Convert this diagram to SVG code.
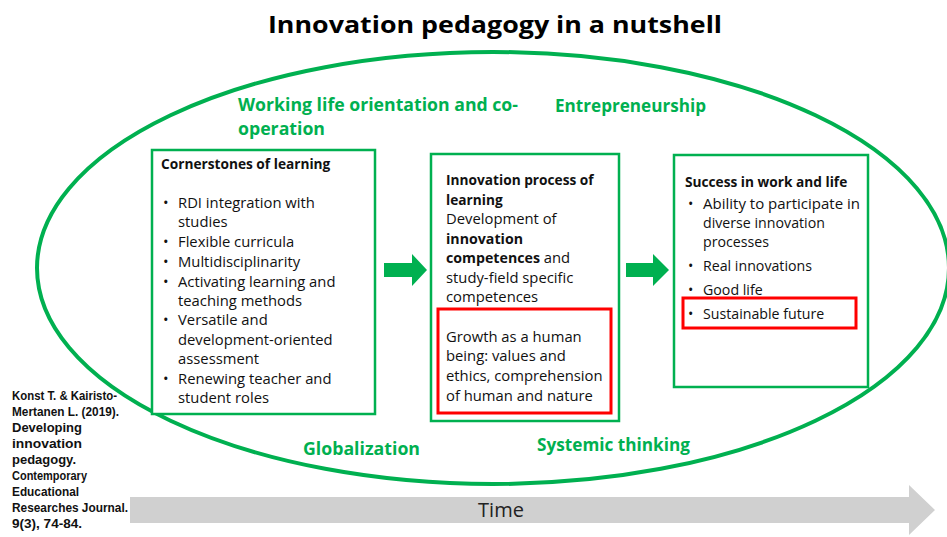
<svg xmlns="http://www.w3.org/2000/svg" width="947" height="537" viewBox="0 0 947 537">
<style>
.title{font-family:"Open Sans","Liberation Sans",sans-serif;font-weight:bold;font-size:24px;fill:#000}
.glabel{font-family:"Open Sans","Liberation Sans",sans-serif;font-weight:bold;font-size:18px;fill:#00B050}
.body{font-family:"Open Sans","Liberation Sans",sans-serif;font-size:14.8px;fill:#111}
.body3{font-family:"Open Sans","Liberation Sans",sans-serif;font-size:14.2px;fill:#111}
.hd{font-family:"Open Sans","Liberation Sans",sans-serif;font-size:13.7px;font-weight:bold;fill:#111}
.b{font-weight:bold;font-size:14.2px}
.cite{font-family:"Liberation Sans",Arial,sans-serif;font-weight:bold;font-size:13px;fill:#111}
.gbox{fill:#fff;stroke:#00B050;stroke-width:2.5}
.rbox{fill:none;stroke:#FF0000;stroke-width:3}
.garrow{fill:#00B050}
</style>
<rect width="947" height="537" fill="#fff"/>
<text class="title" x="268" y="33" textLength="454" lengthAdjust="spacingAndGlyphs">Innovation pedagogy in a nutshell</text>
<g id="context">
<ellipse cx="493" cy="268" rx="456" ry="216" fill="none" stroke="#00B050" stroke-width="4"/>
<text class="glabel" x="238" y="111" textLength="280" lengthAdjust="spacingAndGlyphs">Working life orientation and co-</text>
<text class="glabel" x="238" y="135" textLength="87" lengthAdjust="spacingAndGlyphs">operation</text>
<text class="glabel" x="555" y="112" textLength="151" lengthAdjust="spacingAndGlyphs">Entrepreneurship</text>
<text class="glabel" x="303" y="455" textLength="117" lengthAdjust="spacingAndGlyphs">Globalization</text>
<text class="glabel" x="537" y="451" textLength="153" lengthAdjust="spacingAndGlyphs">Systemic thinking</text>
</g>
<g id="connectors">
<polygon class="garrow" points="384,263 412,263 412,254 427,270 412,286 412,277 384,277"/>
<polygon class="garrow" points="626,263 653,263 653,254 669,270 653,286 653,277 626,277"/>
</g>
<g id="cornerstones">
<rect class="gbox" x="152" y="150" width="223" height="264"/>
<text class="hd" x="161" y="169">Cornerstones of learning</text>
<g class="body">
<text x="163" y="208">•</text><text x="178" y="208">RDI integration with</text>
<text x="178" y="227">studies</text>
<text x="163" y="247">•</text><text x="178" y="247">Flexible curricula</text>
<text x="163" y="267">•</text><text x="178" y="267">Multidisciplinarity</text>
<text x="163" y="287">•</text><text x="178" y="287">Activating learning and</text>
<text x="178" y="306">teaching methods</text>
<text x="163" y="325">•</text><text x="178" y="325">Versatile and</text>
<text x="178" y="345">development-oriented</text>
<text x="178" y="364">assessment</text>
<text x="163" y="384">•</text><text x="178" y="384">Renewing teacher and</text>
<text x="178" y="403">student roles</text>
</g>
</g>
<g id="innovation-process">
<rect class="gbox" x="431" y="154" width="188" height="267"/>
<text x="446" y="185" class="hd">Innovation process of</text>
<text x="446" y="205" class="hd">learning</text>
<g class="body">
<text x="446" y="224">Development of</text>
<text x="446" y="244" class="b">innovation</text>
<text x="446" y="263"><tspan class="b">competences</tspan> and</text>
<text x="446" y="283">study-field specific</text>
<text x="446" y="302">competences</text>
</g>
</g>
<g id="growth">
<rect class="rbox" x="438" y="309" width="173" height="104"/>
<g class="body">
<text x="446" y="342">Growth as a human</text>
<text x="446" y="361">being: values and</text>
<text x="446" y="381">ethics, comprehension</text>
<text x="446" y="401">of human and nature</text>
</g>
</g>
<g id="success">
<rect class="gbox" x="674" y="155" width="194" height="232"/>
<text class="hd" x="685" y="187">Success in work and life</text>
<g class="body3">
<text x="688" y="209">•</text><text x="703" y="209" textLength="157" lengthAdjust="spacingAndGlyphs">Ability to participate in</text>
<text x="703" y="228">diverse innovation</text>
<text x="703" y="247">processes</text>
<text x="688" y="271">•</text><text x="703" y="271">Real innovations</text>
<text x="688" y="295">•</text><text x="703" y="295">Good life</text>
<text x="688" y="319">•</text><text x="703" y="319">Sustainable future</text>
</g>
</g>
<g id="sustainable">
<rect class="rbox" x="683" y="298" width="173" height="30"/>
</g>
<g id="time">
<polygon points="130,497 909,497 909,485 935,510 909,535 909,523 130,523" fill="#D0D0D0"/>
<text x="501" y="517" text-anchor="middle" font-family="Open Sans, Liberation Sans, sans-serif" font-size="20" fill="#222">Time</text>
</g>
<g id="citation" class="cite">
<text x="12" y="400" textLength="105" lengthAdjust="spacingAndGlyphs">Konst T. &amp; Kairisto-</text>
<text x="12" y="416" textLength="107" lengthAdjust="spacingAndGlyphs">Mertanen L. (2019).</text>
<text x="12" y="432" textLength="70" lengthAdjust="spacingAndGlyphs">Developing</text>
<text x="12" y="448" textLength="70" lengthAdjust="spacingAndGlyphs">innovation</text>
<text x="12" y="464" textLength="64" lengthAdjust="spacingAndGlyphs">pedagogy.</text>
<text x="12" y="480" textLength="75" lengthAdjust="spacingAndGlyphs">Contemporary</text>
<text x="12" y="496" textLength="67" lengthAdjust="spacingAndGlyphs">Educational</text>
<text x="12" y="512" textLength="116" lengthAdjust="spacingAndGlyphs">Researches Journal.</text>
<text x="12" y="528" textLength="70" lengthAdjust="spacingAndGlyphs">9(3), 74-84.</text>
</g>
</svg>
